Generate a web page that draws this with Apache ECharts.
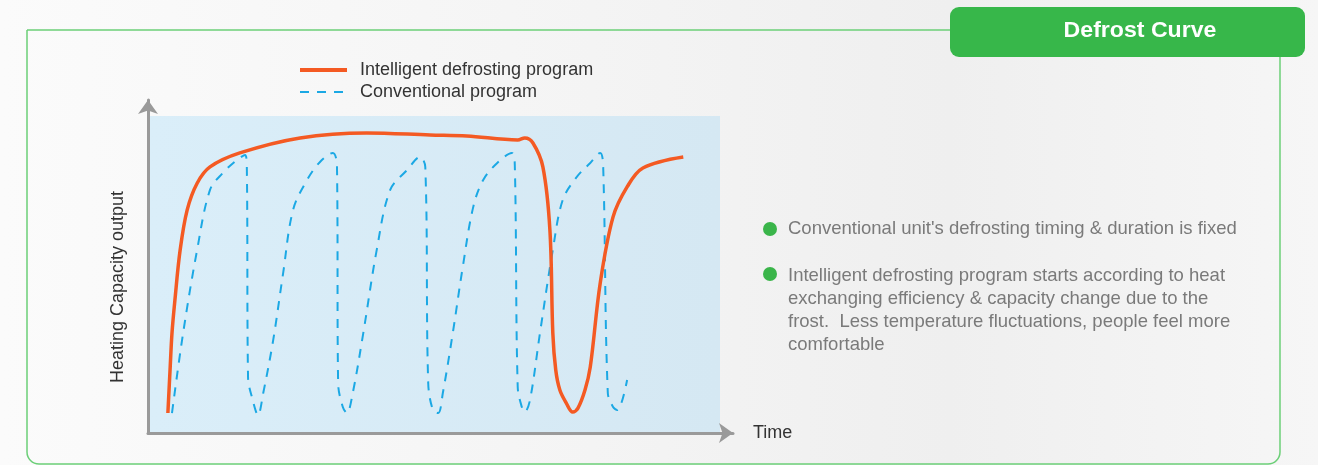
<!DOCTYPE html>
<html>
<head>
<meta charset="utf-8">
<title>Defrost Curve</title>
<script src="https://cdn.jsdelivr.net/npm/echarts@6/dist/echarts.min.js"></script>
<style>
  html, body { margin: 0; padding: 0; }
  body { background: linear-gradient(90deg, #fbfbfb 0%, #f4f4f4 45%, #efefef 72%, #f6f6f6 100%); }
  #chart { width: 1318px; height: 465px; }
</style>
</head>
<body>
<div id="chart"></div>
<script>
// time 0-100, capacity 0-100
const smartTime = [3.4, 3.8, 4.1, 4.6, 5.5, 6.7, 8.4, 10.6, 15.7, 26.0, 37.4, 48.2, 54.5, 63.2, 64.4, 65.8, 67.5, 68.7, 69.2, 69.7, 70.4, 71.5, 72.6, 73.5, 74.7, 75.6, 77.3, 79.5, 81.9, 84.6, 91.5]
const smartCap = [6.0, 20.0, 30.0, 39.9, 55.0, 67.0, 75.0, 79.9, 84.1, 88.6, 90.1, 89.5, 89.2, 88.0, 88.6, 87.1, 79.9, 61.0, 30.0, 18.9, 12.9, 9.0, 6.3, 7.5, 12.9, 19.8, 45.0, 64.9, 73.9, 79.6, 82.9]

const convTime = [4.1, 6.0, 8.4, 10.6, 12.8, 15.2, 16.6, 16.9, 17.1, 17.9, 18.8, 19.7, 21.4, 23.1, 24.8, 27.2, 29.4, 31.6, 32.3, 32.5, 33.3, 34.0, 35.0, 36.8, 39.1, 41.4, 44.3, 46.5, 47.4, 47.9, 48.7, 49.6, 50.4, 52.1, 53.8, 55.6, 57.3, 59.7, 62.2, 62.7, 63.2, 63.9, 64.4, 65.3, 67.0, 69.2, 70.9, 73.3, 75.6, 77.3, 77.8, 78.6, 79.5, 80.2, 81.9]
const convCap = [6.0, 30.0, 55.0, 73.0, 78.1, 82.0, 83.5, 79.0, 16.8, 9.9, 5.4, 12.0, 27.9, 48.0, 67.0, 76.0, 81.4, 84.1, 80.5, 15.0, 7.8, 6.0, 12.0, 30.0, 55.0, 73.0, 79.0, 82.9, 79.9, 15.0, 6.9, 6.0, 12.0, 30.0, 49.8, 67.9, 76.0, 81.1, 84.1, 80.5, 13.8, 7.8, 6.3, 9.9, 30.0, 55.0, 70.0, 76.9, 81.1, 84.1, 80.5, 12.0, 7.8, 6.9, 15.9]

const seriesNames = ['Intelligent defrosting program', 'Conventional program']
const title = 'Defrost Curve'
const xName = 'Time'
const yName = 'Heating Capacity output'
const notes = [
  "Conventional unit's defrosting timing & duration is fixed",
  'Intelligent defrosting program starts according to heat\nexchanging efficiency & capacity change due to the\nfrost.  Less temperature fluctuations, people feel more\ncomfortable'
]

const font = '"Liberation Sans", Arial, sans-serif'
const chart = echarts.init(document.getElementById('chart'))

chart.setOption({
  animation: false,
  legend: {
    orient: 'vertical',
    left: 298,
    top: 61,
    padding: 0,
    itemWidth: 47,
    itemHeight: 14,
    itemGap: 4,
    itemStyle: { opacity: 0 },
    textStyle: { fontFamily: font, fontSize: 18, color: '#333', padding: [0, 0, 0, 8] },
    data: [
      { name: seriesNames[0], lineStyle: { width: 4 } },
      { name: seriesNames[1], lineStyle: { width: 2 } }
    ]
  },
  grid: { left: 148, top: 100, width: 585, height: 333 },
  xAxis: {
    type: 'value',
    min: 0,
    max: 100,
    name: xName,
    nameLocation: 'end',
    nameGap: 20,
    nameTextStyle: { fontFamily: font, fontSize: 18, color: '#333', padding: [4, 0, 0, 0] },
    axisLine: { show: true, symbol: ['none', 'arrow'], symbolSize: [15, 14], lineStyle: { color: '#9a9a9a', width: 3 } },
    axisTick: { show: false },
    axisLabel: { show: false },
    splitLine: { show: false }
  },
  yAxis: {
    type: 'value',
    min: 0,
    max: 100,
    axisLine: { show: true, symbol: ['none', 'arrow'], symbolSize: [15, 14], lineStyle: { color: '#9a9a9a', width: 3 } },
    axisTick: { show: false },
    axisLabel: { show: false },
    splitLine: { show: false }
  },
  graphic: [
    // panel frame
    { type: 'rect', z: -10, shape: { x: 27, y: 30, width: 1253, height: 434, r: [0, 0, 12, 12] },
      style: { fill: 'transparent', stroke: '#6ccf78', lineWidth: 1.5 } },
    // plot background
    { type: 'rect', z: -5, shape: { x: 149, y: 116, width: 571, height: 316 },
      style: { fill: new echarts.graphic.LinearGradient(0, 0, 1, 0, [
        { offset: 0, color: '#daeef9' }, { offset: 1, color: '#d5e8f3' }]) } },
    // title tab
    { type: 'rect', z: 10, shape: { x: 950, y: 7, width: 355, height: 50, r: 9 },
      style: { fill: '#37b74a' } },
    { type: 'text', z: 11, x: 1140, y: 31, scaleX: 1.05,
      style: { text: title, fill: '#fff', font: 'bold 22px ' + font, align: 'center', verticalAlign: 'middle' } },
    // y axis name
    { type: 'text', x: 118, y: 287, rotation: Math.PI / 2,
      style: { text: yName, fill: '#333', font: '18px ' + font, align: 'center', verticalAlign: 'middle' } },
    // notes
    { type: 'circle', shape: { cx: 770, cy: 229, r: 7 }, style: { fill: '#3ab54a' } },
    { type: 'text', x: 788, y: 217,
      style: { text: notes[0], fill: '#7a7a7a', font: '18.5px ' + font, lineHeight: 23, verticalAlign: 'top' } },
    { type: 'circle', shape: { cx: 770, cy: 274, r: 7 }, style: { fill: '#3ab54a' } },
    { type: 'text', x: 788, y: 264,
      style: { text: notes[1], fill: '#7a7a7a', font: '18.5px ' + font, lineHeight: 23, verticalAlign: 'top' } }
  ],
  series: [
    {
      name: seriesNames[0],
      type: 'line',
      data: smartTime.map((t, i) => [t, smartCap[i]]),
      showSymbol: false,
      symbol: 'none',
      smooth: 0.35,
      color: '#f45a23',
      lineStyle: { color: '#f45a23', width: 3.5 },
      z: 3
    },
    {
      name: seriesNames[1],
      type: 'line',
      data: convTime.map((t, i) => [t, convCap[i]]),
      showSymbol: false,
      symbol: 'none',
      smooth: 0.35,
      color: '#1ba8e4',
      lineStyle: { color: '#1ba8e4', width: 2, type: [9, 8] },
      z: 2
    }
  ]
})
</script>
</body>
</html>
